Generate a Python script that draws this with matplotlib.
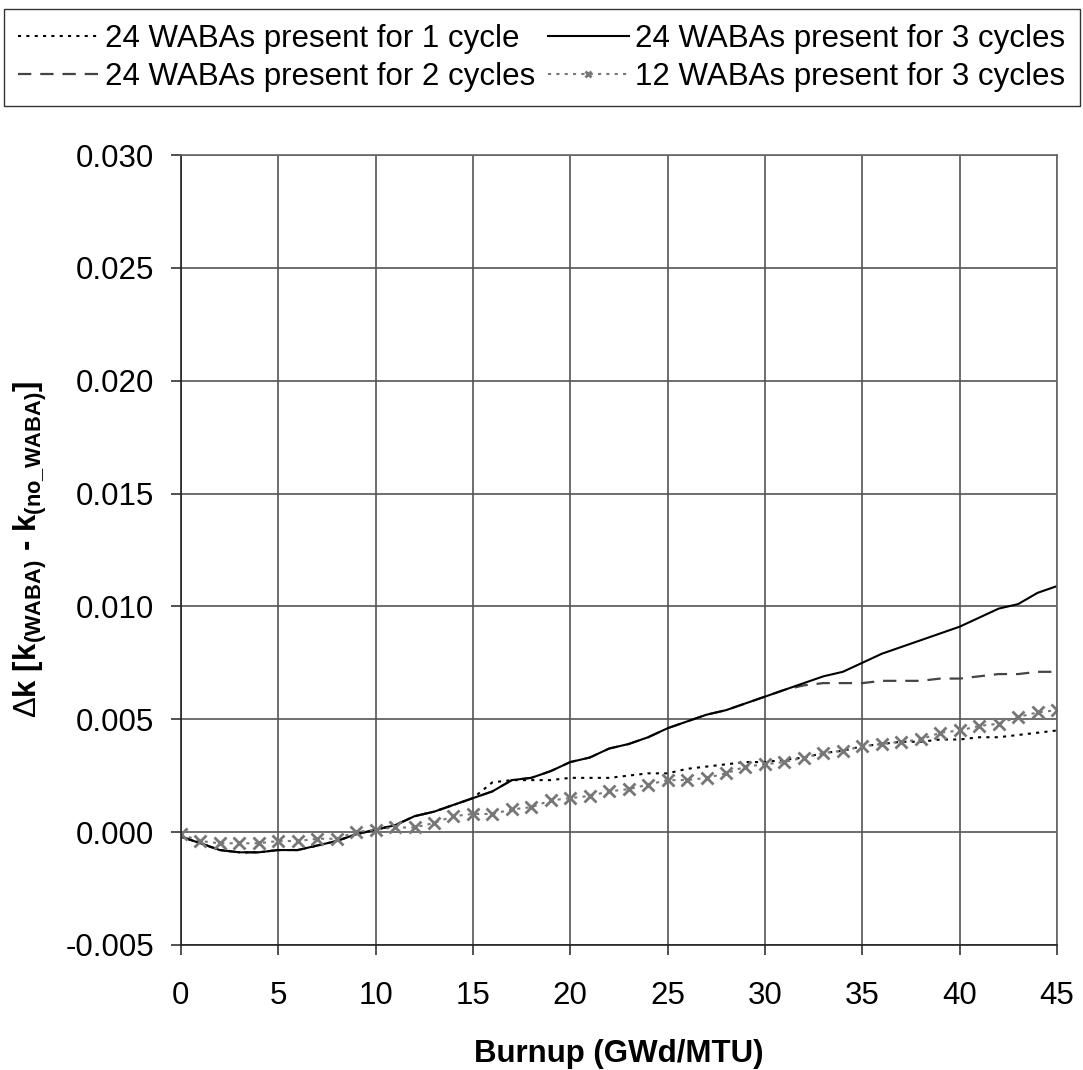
import numpy as np
import matplotlib
matplotlib.use('Agg')
import matplotlib.pyplot as plt

plt.rcParams['font.family'] = ['Liberation Sans', 'DejaVu Sans']
plt.rcParams['mathtext.fontset'] = 'custom'
plt.rcParams['mathtext.rm'] = 'Liberation Sans'
plt.rcParams['mathtext.bf'] = 'Liberation Sans:bold'

# Burnup (GWd/MTU)
burnup = list(range(0, 46))

# 24 WABAs present for 3 cycles
dk_24_3 = [-0.0002, -0.0005, -0.0008, -0.0009, -0.0009, -0.0008, -0.0008, -0.0006,
           -0.0004, -0.0001, 0.0001, 0.0003, 0.0007, 0.0009, 0.0012, 0.0015,
           0.0018, 0.0023, 0.0024, 0.0027, 0.0031, 0.0033, 0.0037, 0.0039,
           0.0042, 0.0046, 0.0049, 0.0052, 0.0054, 0.0057, 0.0060, 0.0063,
           0.0066, 0.0069, 0.0071, 0.0075, 0.0079, 0.0082, 0.0085, 0.0088,
           0.0091, 0.0095, 0.0099, 0.0101, 0.0106, 0.0109]

# 24 WABAs present for 2 cycles
dk_24_2 = [-0.0002, -0.0005, -0.0008, -0.0009, -0.0009, -0.0008, -0.0008, -0.0006,
           -0.0004, -0.0001, 0.0001, 0.0003, 0.0007, 0.0009, 0.0012, 0.0015,
           0.0018, 0.0023, 0.0024, 0.0027, 0.0031, 0.0033, 0.0037, 0.0039,
           0.0042, 0.0046, 0.0049, 0.0052, 0.0054, 0.0057, 0.0060, 0.0063,
           0.0065, 0.0066, 0.0066, 0.0066, 0.0067, 0.0067, 0.0067, 0.0068,
           0.0068, 0.0069, 0.0070, 0.0070, 0.0071, 0.0071]

# 24 WABAs present for 1 cycle
dk_24_1 = [-0.0002, -0.0005, -0.0008, -0.0009, -0.0009, -0.0008, -0.0008, -0.0006,
           -0.0004, -0.0001, 0.0001, 0.0003, 0.0007, 0.0009, 0.0012, 0.0015,
           0.0022, 0.0023, 0.0023, 0.0023, 0.0024, 0.0024, 0.0024, 0.0025,
           0.0026, 0.0026, 0.0028, 0.0029, 0.0030, 0.0031, 0.0031, 0.0032,
           0.0033, 0.0035, 0.0036, 0.0038, 0.0039, 0.0040, 0.0040, 0.0041,
           0.0041, 0.0042, 0.0042, 0.0043, 0.0044, 0.0045]

# 12 WABAs present for 3 cycles
dk_12_3 = [-0.0001, -0.0004, -0.0005, -0.0005, -0.0005, -0.0004, -0.0004, -0.0003,
           -0.0003, 0.0000, 0.0001, 0.0002, 0.0002, 0.0004, 0.0007, 0.0008,
           0.0008, 0.0010, 0.0011, 0.0014, 0.0015, 0.0016, 0.0018, 0.0019,
           0.0021, 0.0023, 0.0023, 0.0024, 0.0026, 0.0029, 0.0030, 0.0031,
           0.0033, 0.0035, 0.0036, 0.0038, 0.0039, 0.0040, 0.0041, 0.0044,
           0.0045, 0.0047, 0.0048, 0.0051, 0.0053, 0.0054]

x_ticks = [0, 5, 10, 15, 20, 25, 30, 35, 40, 45]
y_ticks = [-0.005, 0.000, 0.005, 0.010, 0.015, 0.020, 0.025, 0.030]

fs = 22.5

fig = plt.figure(figsize=(10.83, 10.70), dpi=100)
ax = fig.add_axes([0.167, 0.117, 0.809, 0.738])

l1, = ax.plot(burnup, dk_24_1, color='black', linestyle=(0, (1.5, 2.5)), linewidth=1.5,
              label='24 WABAs present for 1 cycle')
l2, = ax.plot(burnup, dk_24_2, color='#444444', linestyle=(0, (6, 4)), linewidth=1.6,
              label='24 WABAs present for 2 cycles')
l3, = ax.plot(burnup, dk_24_3, color='black', linestyle='-', linewidth=1.5,
              label='24 WABAs present for 3 cycles')
l4, = ax.plot(burnup, dk_12_3, color='#777777', linestyle=(0, (1.5, 2.5)), linewidth=1.5,
              marker='x', markersize=8, markeredgewidth=2,
              label='12 WABAs present for 3 cycles')

ax.set_xlim(0, 45)
ax.set_ylim(-0.005, 0.030)
ax.set_xticks(x_ticks)
ax.set_yticks(y_ticks)
ax.set_yticklabels(['%.3f' % v for v in y_ticks])
ax.tick_params(labelsize=fs, length=7, width=1.2, direction='out', color='#333333')
ax.tick_params(axis='x', pad=19)
ax.tick_params(axis='y', pad=12)
ax.grid(True, color='#555555', linewidth=1.2)
ax.set_axisbelow(True)
for name, s in ax.spines.items():
    s.set_linewidth(1.2)
    s.set_color('#222222' if name in ('left', 'bottom') else '#666666')

ax.set_xlabel('Burnup (GWd/MTU)', fontsize=fs, fontweight='bold', labelpad=20)
ax.set_ylabel(r'$\Delta$k [k$_{\mathbf{(WABA)}}$ - k$_{\mathbf{(no\_WABA)}}$]',
              fontsize=fs, fontweight='bold', labelpad=12)

leg = fig.legend(handles=[l1, l2, l3, l4], loc='upper center',
                 bbox_to_anchor=(0.5, 0.997), ncol=2, fontsize=fs,
                 fancybox=False, frameon=True, edgecolor='black',
                 handlelength=2.6, handletextpad=0.2, columnspacing=0.4,
                 borderpad=0.45, labelspacing=0.26, markerscale=0.6,
                 borderaxespad=0.2)
leg.get_frame().set_linewidth(1.0)

fig.savefig('out.png', dpi=100)
